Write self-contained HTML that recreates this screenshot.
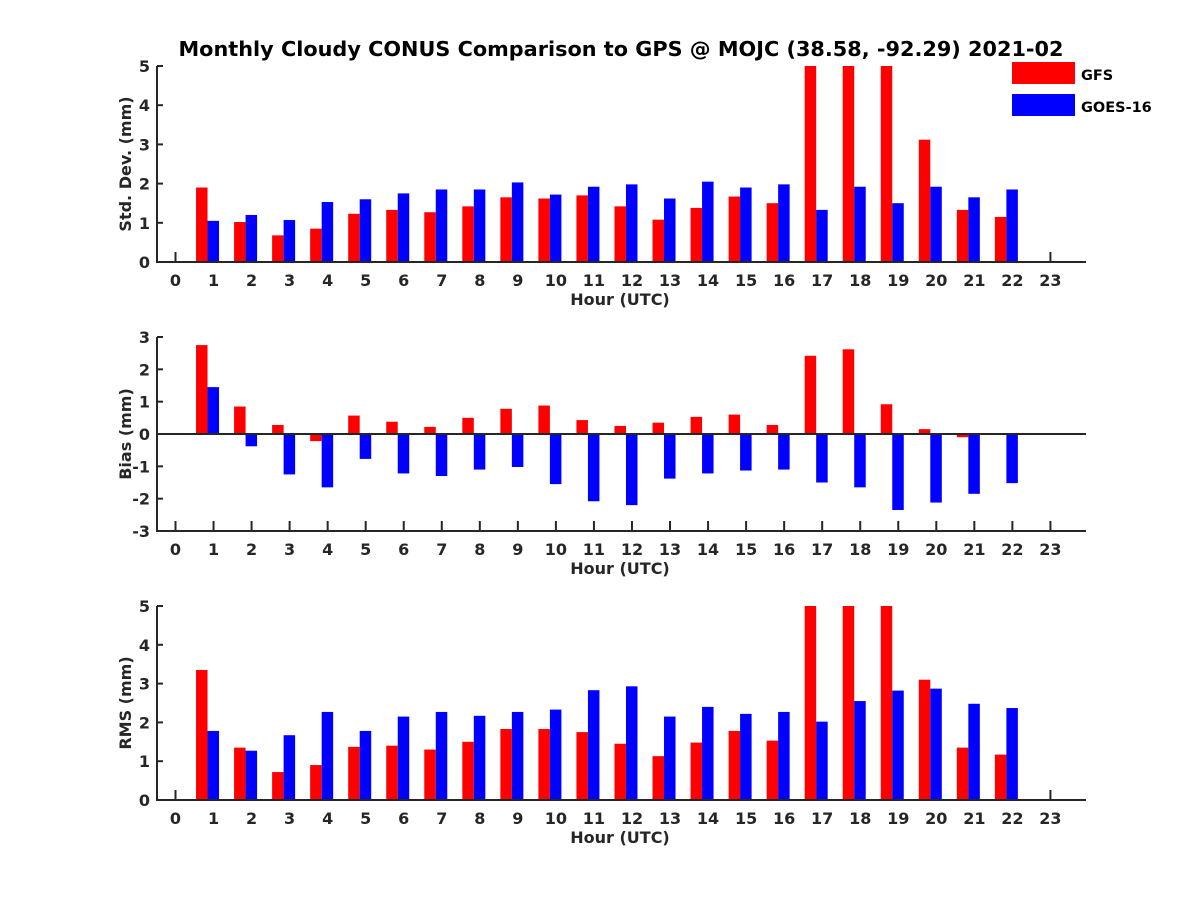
<!DOCTYPE html>
<html><head><meta charset="utf-8"><style>
body{margin:0;background:#fff}
svg text{font-family:"DejaVu Sans","Liberation Sans",sans-serif;font-weight:bold;fill:#262626}
</style></head><body>
<svg id="chart" width="1200" height="900" xmlns="http://www.w3.org/2000/svg"></svg>
<script>
const hours = [0,1,2,3,4,5,6,7,8,9,10,11,12,13,14,15,16,17,18,19,20,21,22,23];
const barHours = [1,2,3,4,5,6,7,8,9,10,11,12,13,14,15,16,17,18,19,20,21,22];
const stdGFS = [1.9,1.02,0.68,0.85,1.23,1.33,1.27,1.42,1.65,1.62,1.7,1.42,1.08,1.38,1.67,1.5,5,5,5,3.12,1.33,1.15];
const stdGOES = [1.05,1.2,1.07,1.53,1.6,1.75,1.85,1.85,2.03,1.72,1.92,1.98,1.62,2.05,1.9,1.98,1.33,1.92,1.5,1.92,1.65,1.85];
const biasGFS = [2.75,0.85,0.28,-0.22,0.57,0.38,0.22,0.5,0.78,0.88,0.43,0.25,0.35,0.53,0.6,0.28,2.42,2.62,0.92,0.15,-0.1,0];
const biasGOES = [1.45,-0.38,-1.25,-1.65,-0.77,-1.22,-1.3,-1.1,-1.02,-1.55,-2.08,-2.2,-1.38,-1.22,-1.13,-1.1,-1.5,-1.65,-2.35,-2.12,-1.85,-1.52];
const rmsGFS = [3.35,1.35,0.72,0.9,1.37,1.4,1.3,1.5,1.83,1.83,1.75,1.45,1.13,1.48,1.78,1.53,5,5,5,3.1,1.35,1.17];
const rmsGOES = [1.78,1.27,1.67,2.27,1.78,2.15,2.27,2.17,2.27,2.33,2.83,2.93,2.15,2.4,2.22,2.27,2.02,2.55,2.82,2.87,2.48,2.37];
const stdTicks = [0,1,2,3,4,5];
const biasTicks = [-3,-2,-1,0,1,2,3];
const rmsTicks = [0,1,2,3,4,5];

const svg = document.getElementById('chart');
const NS = 'http://www.w3.org/2000/svg';
function mk(tag, attrs, parent){
  const e = document.createElementNS(NS, tag);
  for (const k in attrs) e.setAttribute(k, attrs[k]);
  (parent||svg).appendChild(e);
  return e;
}
const X = h => 175.5 + h*38.04;

function panel(name, top, bottom, ymin, ymax, ticks, gfs, goes, ylabel, zeroLine){
  const g = mk('g', {});
  
  
  const Y = v => bottom - (v - ymin) / (ymax - ymin) * (bottom - top);
  const y0 = Y(Math.max(ymin, 0));
  const tk = mk('g', {stroke: '#262626', 'stroke-width': 2}, g);
  
  
  hours.forEach(h => {
    mk('line', {x1: X(h), x2: X(h), y1: bottom, y2: bottom-10}, tk);
    const tx = mk('text', {x: X(h), y: bottom+24, 'text-anchor': 'middle', 'font-size': 16}, g);
    tx.textContent = h;
    
    
  });
  barHours.forEach((h, i) => {
    const v1 = gfs[i], v2 = goes[i];
    const r = mk('rect', {x: X(h)-17.5, width: 11.5, y: Math.min(Y(v1), y0), height: Math.abs(Y(v1)-y0), fill: '#ff0000'}, g);
    
    
    const b = mk('rect', {x: X(h)-6, width: 11.5, y: Math.min(Y(v2), y0), height: Math.abs(Y(v2)-y0), fill: '#0000ff'}, g);
    
    
  });
  const ax = mk('g', {stroke: '#262626', 'stroke-width': 2}, g);
  
  
  mk('line', {x1: 157, x2: 157, y1: top, y2: bottom+1}, ax);
  mk('line', {x1: 156, x2: 1086, y1: bottom, y2: bottom}, ax);
  if (zeroLine) mk('line', {x1: 157, x2: 1086, y1: Y(0), y2: Y(0)}, ax);
  ticks.forEach(t => {
    mk('line', {x1: 157, x2: 163, y1: Y(t), y2: Y(t)}, ax);
    const tx = mk('text', {x: 150, y: Y(t)+6, 'text-anchor': 'end', 'font-size': 16}, g);
    tx.textContent = t;
    
    
  });
  const xl = mk('text', {x: 620, y: bottom+43, 'text-anchor': 'middle', 'font-size': 16}, g);
  xl.textContent = 'Hour (UTC)';
  
  
  const cy = (top+bottom)/2;
  const yl = mk('text', {x: 131, y: cy, 'text-anchor': 'middle', 'font-size': 16, transform: `rotate(-90 131 ${cy})`}, g);
  yl.textContent = ylabel;
  
  
}

const title = mk('text', {x: 621, y: 56, 'text-anchor': 'middle', 'font-size': 20.8, style: 'fill:#000'});
title.textContent = 'Monthly Cloudy CONUS Comparison to GPS @ MOJC (38.58, -92.29) 2021-02';



panel('std-dev', 66, 262, 0, 5, stdTicks, stdGFS, stdGOES, 'Std. Dev. (mm)', false);
panel('bias', 337, 531, -3, 3, biasTicks, biasGFS, biasGOES, 'Bias (mm)', true);
panel('rms', 606, 800, 0, 5, rmsTicks, rmsGFS, rmsGOES, 'RMS (mm)', false);

const lg = mk('g', {});


const l1 = mk('rect', {x: 1012, y: 62, width: 63, height: 22, fill: '#ff0000'}, lg);


const l2 = mk('rect', {x: 1012, y: 94, width: 63, height: 22, fill: '#0000ff'}, lg);


const t1 = mk('text', {x: 1081, y: 80, 'font-size': 14.5, style: 'fill:#000'}, lg);
t1.textContent = 'GFS';


const t2 = mk('text', {x: 1081, y: 112, 'font-size': 14.5, style: 'fill:#000'}, lg);
t2.textContent = 'GOES-16';


</script>
</body></html>
